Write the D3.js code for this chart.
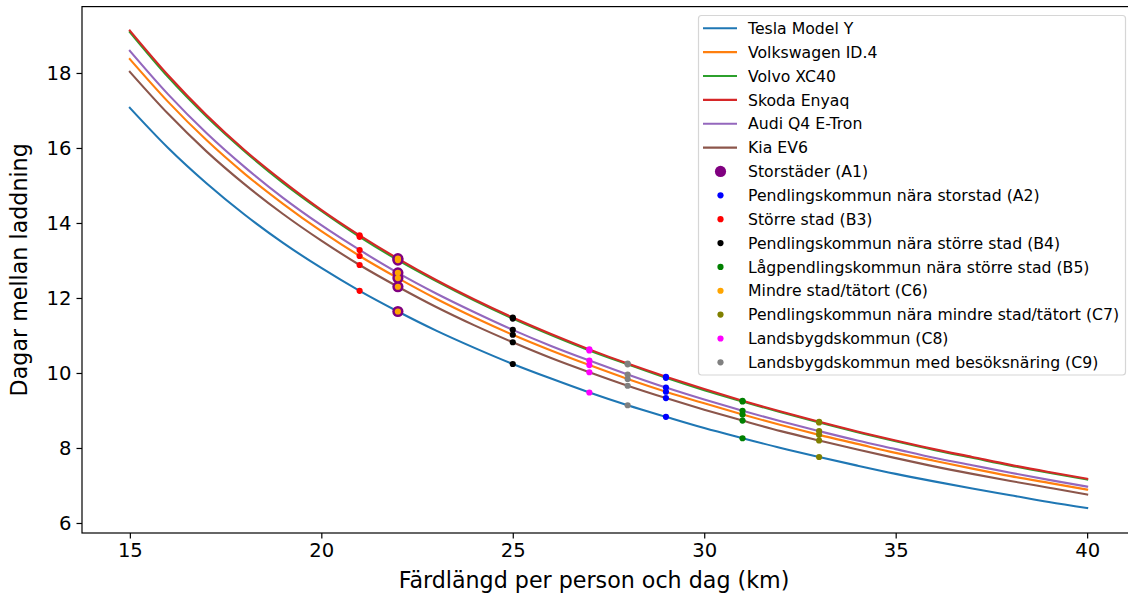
<!DOCTYPE html>
<html>
<head>
<meta charset="utf-8">
<script src="https://cdn.jsdelivr.net/npm/d3@7"></script>
<style>
  html, body { margin: 0; padding: 0; background: #fff; }
  svg { display: block; font-family: "DejaVu Sans", sans-serif; }
</style>
</head>
<body>
<svg id="chart" width="1128" height="600"></svg>
<script>
// ---------- DATA ----------
const distances = [15,16,17,18,19,20,21,22,23,24,25,26,27,28,29,30,31,32,33,34,35,36,37,38,39,40];

const models = ["Tesla Model Y", "Volkswagen ID.4", "Volvo XC40", "Skoda Enyaq", "Audi Q4 E-Tron", "Kia EV6"];
const modelColors = ["#1f77b4", "#ff7f0e", "#2ca02c", "#d62728", "#9467bd", "#8c564b"];

const teslaDays  = [17.07,16.00,15.06,14.22,13.47,12.80,12.19,11.64,11.13,10.67,10.24,9.85,9.48,9.14,8.83,8.53,8.26,8.00,7.76,7.53,7.31,7.11,6.92,6.74,6.56,6.40];
const vwDays     = [18.37,17.23,16.21,15.31,14.51,13.78,13.12,12.53,11.98,11.48,11.02,10.60,10.21,9.84,9.50,9.19,8.89,8.61,8.35,8.11,7.87,7.66,7.45,7.25,7.07,6.89];
const volvoDays  = [19.09,17.89,16.84,15.91,15.07,14.32,13.63,13.01,12.45,11.93,11.45,11.01,10.60,10.23,9.87,9.54,9.24,8.95,8.68,8.42,8.18,7.95,7.74,7.53,7.34,7.16];
const skodaDays  = [19.13,17.94,16.88,15.94,15.11,14.35,13.67,13.05,12.48,11.96,11.48,11.04,10.63,10.25,9.90,9.57,9.26,8.97,8.70,8.44,8.20,7.97,7.76,7.55,7.36,7.18];
const audiDays   = [18.59,17.43,16.40,15.49,14.67,13.94,13.28,12.67,12.12,11.62,11.15,10.72,10.33,9.96,9.61,9.29,8.99,8.71,8.45,8.20,7.97,7.74,7.54,7.34,7.15,6.97];
const kiaDays    = [18.03,16.91,15.91,15.03,14.24,13.53,12.88,12.30,11.76,11.27,10.82,10.40,10.02,9.66,9.33,9.02,8.73,8.45,8.20,7.96,7.73,7.51,7.31,7.12,6.94,6.76];
const modelSeries = [teslaDays, vwDays, volvoDays, skodaDays, audiDays, kiaDays];

// municipality categories: daily distance and days-between-charge for each model (Tesla, VW, Volvo, Skoda, Audi, Kia)
const categories = [
  "Storstäder (A1)",
  "Pendlingskommun nära storstad (A2)",
  "Större stad (B3)",
  "Pendlingskommun nära större stad (B4)",
  "Lågpendlingskommun nära större stad (B5)",
  "Mindre stad/tätort (C6)",
  "Pendlingskommun nära mindre stad/tätort (C7)",
  "Landsbygdskommun (C8)",
  "Landsbygdskommun med besöksnäring (C9)"
];
const categoryColors = ["purple", "blue", "red", "black", "green", "orange", "olive", "magenta", "gray"];
const categoryDistance = [22, 29, 21, 25, 31, 22, 33, 27, 28];
const categoryDays = [
  [11.64,12.53,13.01,13.05,12.67,12.30],
  [8.83,9.50,9.87,9.90,9.61,9.33],
  [12.19,13.12,13.63,13.67,13.28,12.88],
  [10.24,11.02,11.45,11.48,11.15,10.82],
  [8.26,8.89,9.24,9.26,8.99,8.73],
  [11.64,12.53,13.01,13.05,12.67,12.30],
  [7.76,8.35,8.68,8.70,8.45,8.20],
  [9.48,10.21,10.60,10.63,10.33,10.02],
  [9.14,9.84,10.23,10.25,9.96,9.66]
];

const xTicks = [15, 20, 25, 30, 35, 40];
const yTicks = [6, 8, 10, 12, 14, 16, 18];
const xLabel = "Färdlängd per person och dag (km)";
const yLabel = "Dagar mellan laddning";

// ---------- LAYOUT ----------
const svg = d3.select("#chart");
const plot = { left: 82, right: 1135, top: 6.6, bottom: 533 };

const x = d3.scaleLinear().domain([13.75, 41.25]).range([plot.left, plot.right]);
const y = d3.scaleLinear().domain([5.733, 19.77]).range([plot.bottom, plot.top]);

// lines
const line = d3.line()
  .x(d => x(d[0]))
  .y(d => y(d[1]))
  .curve(d3.curveMonotoneX);

const gLines = svg.append("g");
modelSeries.forEach((vals, i) => {
  gLines.append("path")
    .datum(distances.map((dd, j) => [dd, vals[j]]))
    .attr("d", line)
    .attr("fill", "none")
    .attr("stroke", modelColors[i])
    .attr("stroke-width", 2.1)
    .attr("stroke-linecap", "square");
});

// points
const gPts = svg.append("g");
categories.forEach((c, ci) => {
  const r = ci === 0 ? 5.6 : 3.1;
  gPts.selectAll(null)
    .data(categoryDays[ci])
    .enter().append("circle")
    .attr("cx", x(categoryDistance[ci]))
    .attr("cy", d => y(d))
    .attr("r", r)
    .attr("fill", categoryColors[ci]);
});

// axes
const xAxis = d3.axisBottom(x).tickValues(xTicks).tickSize(5.5).tickPadding(5).tickFormat(d3.format("d"));
const yAxis = d3.axisLeft(y).tickValues(yTicks).tickSize(5.5).tickPadding(5).tickFormat(d3.format("d"));

const gx = svg.append("g").attr("transform", `translate(0,${plot.bottom})`).call(xAxis);
const gy = svg.append("g").attr("transform", `translate(${plot.left},0)`).call(yAxis);
[gx, gy].forEach(g => {
  g.select(".domain").remove();
  g.selectAll(".tick line").attr("stroke", "#000").attr("stroke-width", 1.2);
  g.selectAll(".tick text").attr("fill", "#000").style("font-size", "19.6px").style("font-family", "DejaVu Sans");
});

// spines
svg.append("rect")
  .attr("x", plot.left).attr("y", plot.top)
  .attr("width", plot.right - plot.left).attr("height", plot.bottom - plot.top)
  .attr("fill", "none").attr("stroke", "#000").attr("stroke-width", 1.2);

// axis labels
svg.append("text")
  .attr("x", 594).attr("y", 588)
  .attr("text-anchor", "middle")
  .style("font-size", "22.2px")
  .text(xLabel);

svg.append("text")
  .attr("transform", `translate(27,${(plot.top + plot.bottom) / 2}) rotate(-90)`)
  .attr("text-anchor", "middle")
  .style("font-size", "22.2px")
  .text(yLabel);

// legend
const leg = svg.append("g");
leg.append("rect")
  .attr("x", 698.5).attr("y", 15.5)
  .attr("width", 427).attr("height", 359.5)
  .attr("rx", 3).attr("ry", 3)
  .attr("fill", "#fff").attr("fill-opacity", 0.8)
  .attr("stroke", "#d6d6d6").attr("stroke-width", 1.2);

const rowY = i => 28.3 + i * 23.86;
models.forEach((m, i) => {
  leg.append("line")
    .attr("x1", 703).attr("x2", 737)
    .attr("y1", rowY(i)).attr("y2", rowY(i))
    .attr("stroke", modelColors[i]).attr("stroke-width", 2.1);
  leg.append("text")
    .attr("x", 748).attr("y", rowY(i)).attr("dy", "0.36em")
    .style("font-size", "15.7px").attr("fill", "#000")
    .text(m);
});
categories.forEach((c, ci) => {
  const i = ci + models.length;
  leg.append("circle")
    .attr("cx", 720.5).attr("cy", rowY(i))
    .attr("r", ci === 0 ? 5.6 : 3.1)
    .attr("fill", categoryColors[ci]);
  leg.append("text")
    .attr("x", 748).attr("y", rowY(i)).attr("dy", "0.36em")
    .style("font-size", "15.7px").attr("fill", "#000")
    .text(c);
});
</script>
</body>
</html>
